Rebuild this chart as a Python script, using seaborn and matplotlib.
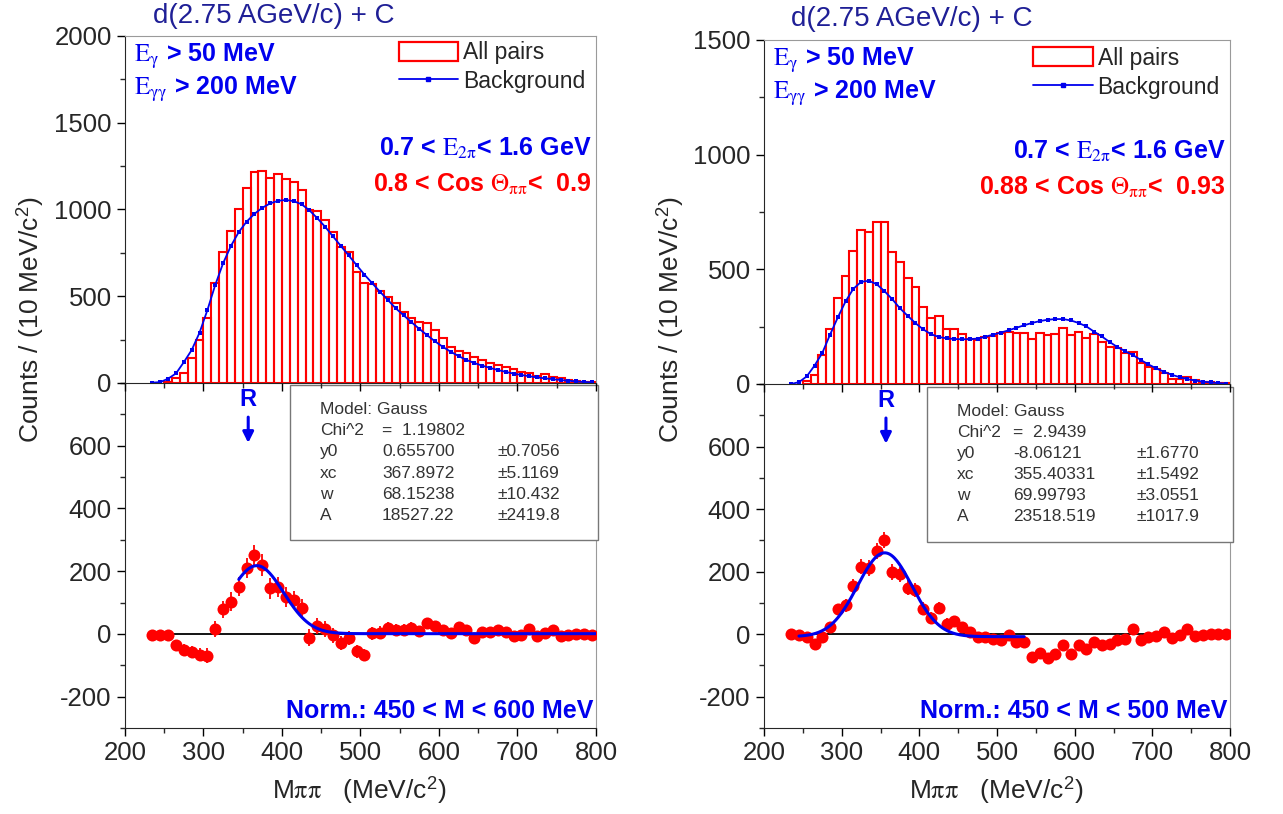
import numpy as np
import matplotlib
matplotlib.use("Agg")
import matplotlib.pyplot as plt
import seaborn as sns
from matplotlib.patches import Patch, Rectangle
from matplotlib.lines import Line2D
from matplotlib.ticker import MultipleLocator, FixedLocator

sns.set_style("ticks")
plt.rcParams["font.family"] = ["Liberation Sans", "DejaVu Sans"]
plt.rcParams["mathtext.fontset"] = "stix"
plt.rcParams["axes.unicode_minus"] = False

# ---- data ----
bin_lo = list(range(250, 800, 10))          # histogram bin left edges, 10 MeV wide
centers = list(range(235, 800, 10))         # background / residual points

left_counts = [8, 27, 56, 142, 248, 372, 578, 756, 877, 1002,
               1121, 1217, 1223, 1182, 1203, 1173, 1159, 1115, 996, 992,
               939, 871, 781, 756, 641, 578, 570, 532, 497, 459,
               411, 372, 353, 344, 305, 257, 209, 186, 175, 152,
               132, 117, 104, 90, 79, 63, 56, 42, 50, 33,
               27, 17, 13, 8, 4]
right_counts = [15, 39, 126, 240, 374, 472, 581, 672, 661, 705,
                705, 577, 531, 461, 424, 337, 286, 297, 238, 238,
                218, 195, 192, 203, 209, 224, 228, 221, 224, 195,
                221, 214, 218, 246, 214, 228, 199, 218, 182, 160,
                156, 134, 141, 90, 76, 64, 47, 22, 22, 32,
                17, 10, 7, 6, 3]

left_bg = [2, 5, 25, 55, 120, 190, 290, 420, 565, 690,
           790, 870, 930, 975, 1010, 1035, 1050, 1055, 1048, 1030,
           995, 950, 900, 845, 790, 735, 680, 625, 575, 525,
           478, 430, 390, 350, 312, 275, 240, 208, 180, 155,
           133, 115, 100, 87, 75, 64, 54, 46, 39, 32,
           27, 22, 17, 13, 9, 6, 3]
right_bg = [0, 8, 33, 80, 135, 215, 290, 360, 415, 445,
            450, 435, 405, 370, 330, 297, 265, 238, 217, 205,
            199, 196, 195, 195, 198, 206, 215, 224, 234, 245,
            256, 266, 274, 280, 283, 283, 277, 266, 251, 228,
            207, 183, 161, 143, 126, 105, 85, 68, 53, 40,
            30, 21, 15, 10, 7, 4, 1]

left_diff = [-3, -3, -5, -35, -50, -58, -66, -70, 15, 78,
             103, 150, 210, 250, 220, 145, 148, 118, 108, 84,
             -12, 26, 15, -5, -30, -12, -56, -67, 2, 4,
             18, 13, 13, 20, 8, 34, 25, 11, 2, 23,
             11, -12, 5, 7, 13, 5, -6, -3, 15, -8,
             4, 13, -6, -3, 0, 0, -3]
left_err = [12, 12, 14, 16, 18, 20, 22, 24, 26, 28,
            30, 30, 32, 34, 34, 33, 32, 31, 30, 28,
            27, 26, 25, 24, 23, 22, 21, 20, 20, 20,
            19, 19, 18, 18, 18, 17, 17, 17, 16, 16,
            16, 15, 15, 15, 14, 14, 14, 13, 13, 13,
            12, 12, 12, 12, 11, 11, 11]
right_diff = [0, -3, -8, -33, -8, 23, 79, 92, 153, 215,
              211, 267, 300, 199, 192, 149, 141, 81, 52, 83,
              34, 41, 23, 7, -8, -8, -16, -19, -3, -26,
              -26, -74, -61, -77, -64, -35, -64, -35, -48, -24,
              -35, -32, -19, -16, 16, -19, -8, -5, 7, -12,
              -3, 16, -5, -3, 2, 2, -1]
right_err = [8, 9, 10, 12, 14, 16, 18, 20, 22, 24,
             25, 26, 26, 25, 24, 23, 22, 21, 20, 19,
             18, 17, 16, 15, 15, 14, 14, 13, 13, 13,
             12, 12, 12, 12, 11, 11, 11, 11, 10, 10,
             10, 10, 10, 9, 9, 9, 9, 9, 8, 8,
             8, 8, 8, 7, 7, 7, 7]

# Gauss fit results (Origin form: y0 + A/(w*sqrt(pi/2)) * exp(-2((x-xc)/w)^2))
fit_names = ["y0", "xc", "w", "A"]
left_fit = [0.6557, 367.8972, 68.15238, 18527.22]
right_fit = [-8.06121, 355.40331, 69.99793, 23518.519]
left_fit_range = [345, 800]
right_fit_range = [245, 535]
left_fit_txt = ["0.655700", "367.8972", "68.15238", "18527.22"]
left_fit_err = ["\u00b10.7056", "\u00b15.1169", "\u00b110.432", "\u00b12419.8"]
right_fit_txt = ["-8.06121", "355.40331", "69.99793", "23518.519"]
right_fit_err = ["\u00b11.6770", "\u00b11.5492", "\u00b13.0551", "\u00b11017.9"]
left_chi2 = "1.19802"
right_chi2 = "2.9439"

RED = "#ff0000"
BLUE = "#0000ee"
TITLE = "#1f1f96"
GRAY = "#9a9a9a"


def gauss(x, p):
    y0, xc, w, A = p
    return y0 + A / (w * np.sqrt(np.pi / 2)) * np.exp(-2 * ((x - xc) / w) ** 2)


def style_axes(ax):
    ax.tick_params(which="major", direction="out", length=6, width=1,
                   labelsize=18.5, color="black")
    ax.tick_params(which="minor", direction="out", length=3.5, width=1)
    ax.spines["top"].set_color(GRAY)
    ax.spines["right"].set_color(GRAY)
    ax.set_xlim(200, 800)
    ax.xaxis.set_major_locator(MultipleLocator(100))
    ax.xaxis.set_minor_locator(MultipleLocator(50))
    ax.set_xlabel("")
    ax.set_ylabel("")


def draw_top(ax, counts, bg, ymax, cos_txt, lg_anchor):
    sns.histplot(x=np.array(bin_lo) + 5, weights=counts,
                 bins=bin_lo + [800], fill=False, color=RED,
                 linewidth=1.5, ax=ax)
    sns.lineplot(x=centers, y=bg, color=BLUE, marker="s", markersize=3,
                 markeredgewidth=0, linewidth=1.3, ax=ax)
    style_axes(ax)
    ax.set_ylim(0, ymax)
    ax.yaxis.set_major_locator(MultipleLocator(500))
    ax.yaxis.set_minor_locator(MultipleLocator(250))
    ax.tick_params(axis="x", labelbottom=False)
    ax.text(0.02, 0.94, r"$\mathrm{E}_{\mathrm{\gamma}}$ > 50 MeV", transform=ax.transAxes,
            color=BLUE, fontsize=18, fontweight="bold", va="center")
    ax.text(0.02, 0.845, r"$\mathrm{E}_{\mathrm{\gamma\gamma}}$ > 200 MeV", transform=ax.transAxes,
            color=BLUE, fontsize=18, fontweight="bold", va="center")
    ax.text(0.991, 0.675, r"0.7 < $\mathrm{E}_{\mathrm{2\pi}}$< 1.6 GeV", transform=ax.transAxes,
            color=BLUE, fontsize=18, fontweight="bold", va="center", ha="right")
    ax.text(0.991, 0.573, cos_txt, transform=ax.transAxes,
            color=RED, fontsize=18, fontweight="bold", va="center", ha="right")
    handles = [Patch(facecolor="white", edgecolor=RED, linewidth=1.6),
               Line2D([], [], color=BLUE, marker="s", markersize=3, linewidth=1.3)]
    ax.legend(handles, ["All pairs", "Background"], loc="upper right",
              bbox_to_anchor=lg_anchor, frameon=False, fontsize=16.5,
              handlelength=2.6, handleheight=0.9, handletextpad=0.2,
              labelspacing=0.25, borderaxespad=0, borderpad=0)


def draw_bottom(ax, diff, err, p, frange, chi2, vals, errs, norm_txt, box):
    ax.patch.set_alpha(0)
    ax.hlines(0, 235, 800, color="black", linewidth=1.3, zorder=2)
    ax.errorbar(centers, diff, yerr=err, fmt="none", ecolor=RED,
                elinewidth=1.3, zorder=3)
    sns.scatterplot(x=centers, y=diff, color=RED, s=75, edgecolor=RED,
                    linewidth=0, zorder=4, ax=ax)
    xf = np.linspace(frange[0], frange[1], 300)
    sns.lineplot(x=xf, y=gauss(xf, p), color=BLUE, linewidth=2.2, zorder=5, ax=ax)
    style_axes(ax)
    ax.spines["top"].set_visible(False)
    ax.set_ylim(-300, 800)
    ax.yaxis.set_major_locator(FixedLocator([-200, 0, 200, 400, 600]))
    ax.yaxis.set_minor_locator(MultipleLocator(100))
    ax.annotate("", xy=(357, 600), xytext=(357, 700),
                arrowprops=dict(arrowstyle="-|>", color=BLUE, lw=2.2,
                                mutation_scale=16))
    ax.text(357, 748, "R", color=BLUE, fontsize=17, fontweight="bold",
            ha="center", va="center")
    ax.text(797, -245, norm_txt, color=BLUE, fontsize=18, fontweight="bold",
            ha="right", va="center")
    bx0, by0, bx1, by1, cx = box
    ax.add_patch(Rectangle((bx0, by0), bx1 - bx0, by1 - by0, transform=ax.transAxes,
                           facecolor="white", edgecolor="#777777", linewidth=1,
                           clip_on=False, zorder=6))
    rows = [("Model: Gauss", "", "")] + [("Chi^2", "=  " + chi2, "")] + \
        list(zip(fit_names, vals, errs))
    ys = np.linspace(by1 - 0.072, by1 - 0.377, 6)
    for (n, v, e), yy in zip(rows, ys):
        for txt, xx in zip((n, v, e), cx):
            if txt:
                ax.text(xx, yy, txt, transform=ax.transAxes, fontsize=12.5,
                        color="#333333", va="center", ha="left", zorder=7)


fig = plt.figure(figsize=(12.83, 8.14), dpi=100)
axLT = fig.add_axes([0.0974, 0.5295, 0.3671, 0.4263])
axLB = fig.add_axes([0.0974, 0.1057, 0.3671, 0.4238])
axRT = fig.add_axes([0.5955, 0.5283, 0.3632, 0.4226])
axRB = fig.add_axes([0.5955, 0.1057, 0.3632, 0.4226])

draw_top(axLT, left_counts, left_bg, 2000,
         r"0.8 < Cos $\Theta_{\mathrm{\pi\pi}}$<  0.9", (0.977, 0.985))
draw_top(axRT, right_counts, right_bg, 1500,
         r"0.88 < Cos $\Theta_{\mathrm{\pi\pi}}$<  0.93", (0.978, 0.98))
draw_bottom(axLB, left_diff, left_err, left_fit, left_fit_range, left_chi2,
            left_fit_txt, left_fit_err, "Norm.: 450 < M < 600 MeV",
            (0.350, 0.545, 1.004, 0.994, (0.414, 0.546, 0.792)))
draw_bottom(axRB, right_diff, right_err, right_fit, right_fit_range, right_chi2,
            right_fit_txt, right_fit_err, "Norm.: 450 < M < 500 MeV",
            (0.350, 0.541, 1.006, 0.991, (0.414, 0.534, 0.800)))
for ax in (axLT, axRT):
    ax.set_zorder(3)

fig.text(0.2136, 0.980, "d(2.75 AGeV/c) + C", color=TITLE, fontsize=20,
         ha="center", va="center")
fig.text(0.711, 0.977, "d(2.75 AGeV/c) + C", color=TITLE, fontsize=20,
         ha="center", va="center")
for xx in (0.0234, 0.522):
    fig.text(xx, 0.607, r"Counts / (10 MeV/c$^\mathregular{2}$)", fontsize=19,
             rotation=90, ha="center", va="center")
for xx in (0.2806, 0.777):
    fig.text(xx, 0.0295, r"M$\mathrm{\pi\pi}$   (MeV/c$^\mathregular{2}$)",
             fontsize=19, ha="center", va="center")

fig.savefig("out.png", dpi=100)
